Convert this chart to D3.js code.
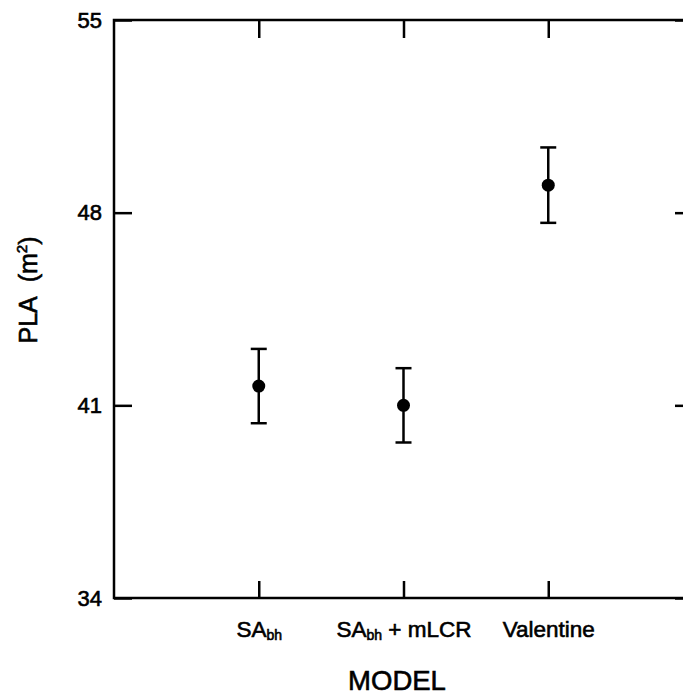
<!DOCTYPE html>
<html>
<head>
<meta charset="utf-8">
<script src="https://cdn.jsdelivr.net/npm/d3@7/dist/d3.min.js"></script>
<style>
  html, body { margin: 0; padding: 0; background: #fff; }
  svg { display: block; }
  text { font-family: "Liberation Sans", Arial, Helvetica, sans-serif; fill: #000; stroke: #000; stroke-width: 0.6px; }
</style>
</head>
<body>
<svg id="chart" width="683" height="698"></svg>
<script>
// Model categories: main label and subscript part
const models = [
  { main: "SA", sub: "bh", rest: "" },
  { main: "SA", sub: "bh", rest: " + mLCR" },
  { main: "Valentine", sub: "", rest: "" }
];
// Mean PLA per model and error half-widths (m²)
const means = [41.7, 41.0, 49.0];
const errors = [1.35, 1.35, 1.37];
// Y-axis tick values
const yTicks = [34, 41, 48, 55];

const svg = d3.select("#chart");
const plotL = 114, plotR = 693, plotT = 20, plotB = 598;

const x = d3.scaleLinear().domain([0, 4]).range([plotL, plotR]);
const y = d3.scaleLinear().domain([34, 55]).range([plotB, plotT]);
const catPos = models.map((d, i) => i + 1);

// Left axis with inward ticks
const gL = svg.append("g").attr("transform", `translate(${plotL},0)`)
  .call(d3.axisLeft(y).tickValues(yTicks).tickSize(-18).tickPadding(12).tickSizeOuter(0));
gL.selectAll("text").attr("font-size", 22);

// Right axis, ticks only
const gR = svg.append("g").attr("transform", `translate(${plotR},0)`)
  .call(d3.axisRight(y).tickValues(yTicks).tickSize(-18).tickFormat("").tickSizeOuter(0));

// Top axis, ticks only
const gT = svg.append("g").attr("transform", `translate(0,${plotT})`)
  .call(d3.axisTop(x).tickValues(catPos).tickSize(-18).tickFormat("").tickSizeOuter(0));

// Bottom axis with category labels
const gB = svg.append("g").attr("transform", `translate(0,${plotB})`)
  .call(d3.axisBottom(x).tickValues(catPos).tickSize(-17).tickPadding(23).tickSizeOuter(0)
    .tickFormat(""));
gB.selectAll(".tick text").each(function(d, i) {
  const m = models[i];
  const t = d3.select(this).attr("font-size", 22.5).attr("dy", "0.71em");
  t.text(null);
  t.append("tspan").text(m.main);
  if (m.sub) t.append("tspan").attr("font-size", 14).attr("dy", 3).text(m.sub);
  if (m.rest) t.append("tspan").attr("dy", -3).text(m.rest);
});

[gL, gR, gT, gB].forEach(g => {
  g.attr("font-family", null);
  g.select(".domain").remove();
  g.selectAll(".tick line").attr("stroke", "#000").attr("stroke-width", 2.5);
});

// Plot frame
svg.append("rect")
  .attr("x", plotL).attr("y", plotT)
  .attr("width", plotR - plotL).attr("height", plotB - plotT)
  .attr("fill", "none").attr("stroke", "#000").attr("stroke-width", 2.5);

// Error bars
const capW = 8;
const eb = svg.append("g").attr("stroke", "#000").attr("stroke-width", 2.5);
means.forEach((m, i) => {
  const cx = x(catPos[i]);
  eb.append("line").attr("x1", cx).attr("x2", cx)
    .attr("y1", y(m - errors[i])).attr("y2", y(m + errors[i]));
  eb.append("line").attr("x1", cx - capW).attr("x2", cx + capW)
    .attr("y1", y(m + errors[i])).attr("y2", y(m + errors[i]));
  eb.append("line").attr("x1", cx - capW).attr("x2", cx + capW)
    .attr("y1", y(m - errors[i])).attr("y2", y(m - errors[i]));
});

// Mean points
svg.append("g").selectAll("circle").data(means).join("circle")
  .attr("cx", (d, i) => x(catPos[i]))
  .attr("cy", d => y(d))
  .attr("r", 6.5)
  .attr("fill", "#000");

// Axis titles
svg.append("text").attr("x", 397).attr("y", 690)
  .attr("text-anchor", "middle").attr("font-size", 27.5).text("MODEL");

const yt = svg.append("text")
  .attr("transform", "translate(37,290) rotate(-90)")
  .attr("text-anchor", "middle").attr("font-size", 25);
yt.append("tspan").text("PLA\u00A0\u00A0(m");
yt.append("tspan").attr("font-size", 15).attr("dy", -10).text("2");
yt.append("tspan").attr("dy", 10).text(")");
</script>
</body>
</html>
